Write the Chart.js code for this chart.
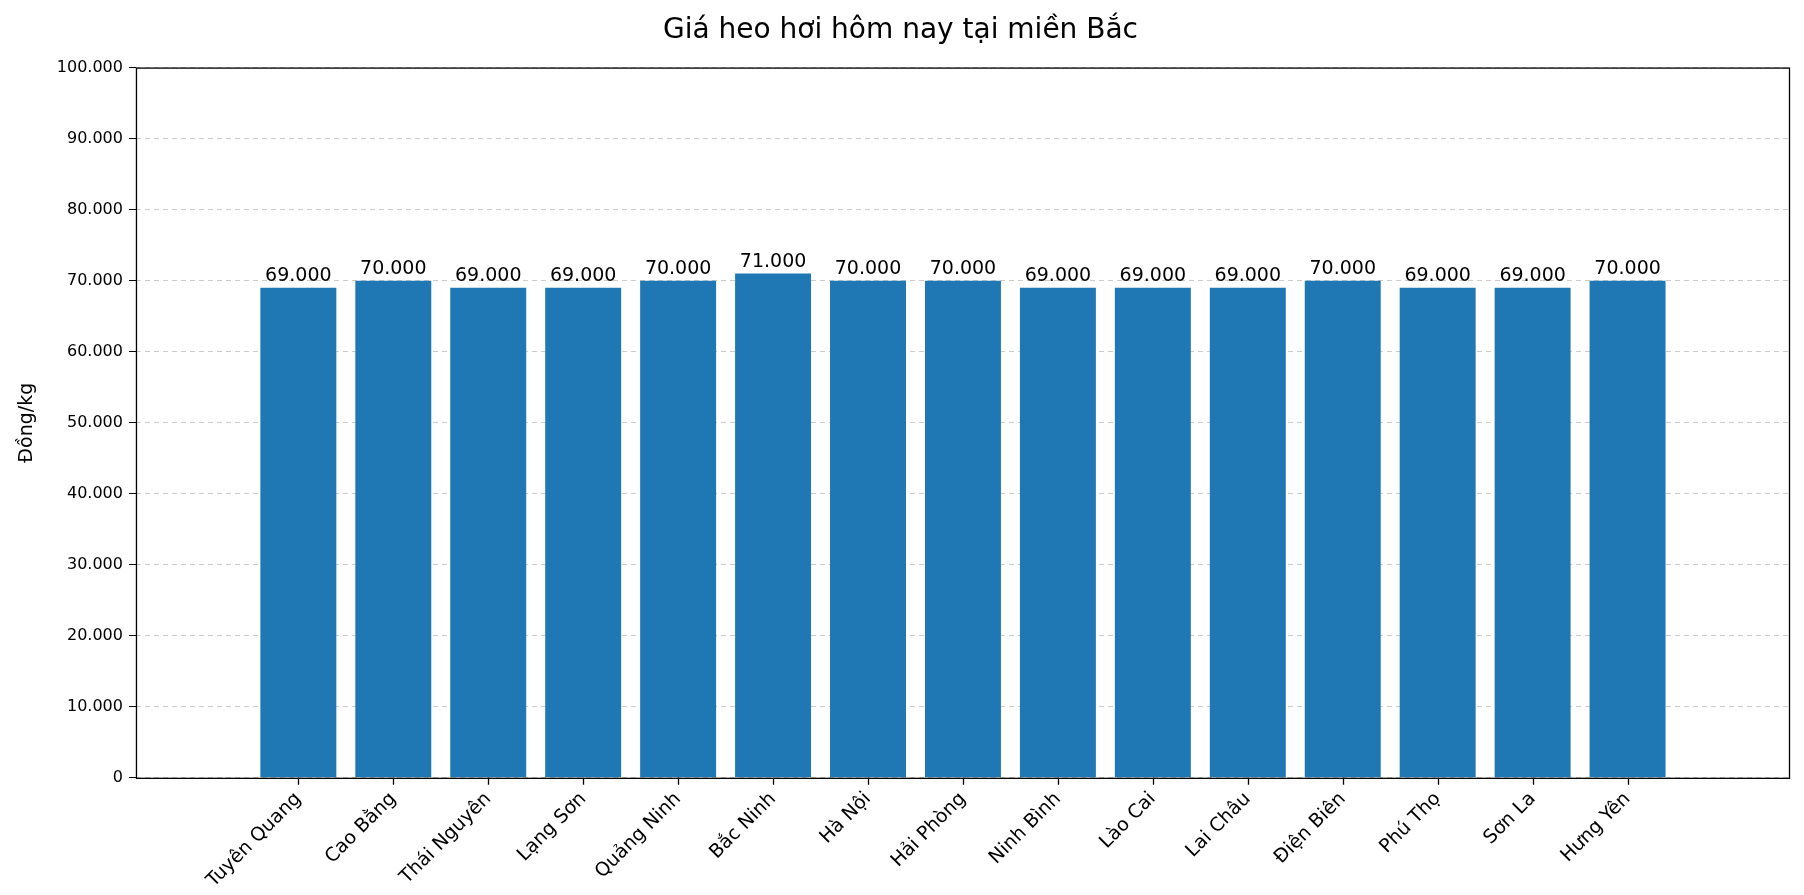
<!DOCTYPE html>
<html><head><meta charset="utf-8">
<script src="https://cdn.jsdelivr.net/npm/chart.js@4/dist/chart.umd.min.js"></script>
<style>html,body{margin:0;background:#fff}</style></head>
<body><canvas id="c" width="1804" height="895"></canvas>
<script>
const categories = ["Tuyên Quang","Cao Bằng","Thái Nguyên","Lạng Sơn","Quảng Ninh","Bắc Ninh","Hà Nội","Hải Phòng","Ninh Bình","Lào Cai","Lai Châu","Điện Biên","Phú Thọ","Sơn La","Hưng Yên"];
const prices = [69000,70000,69000,69000,70000,71000,70000,70000,69000,69000,69000,70000,69000,69000,70000];
const fmt = v => Math.round(v).toString().replace(/\B(?=(\d{3})+(?!\d))/g, ".");
const FONT = "'DejaVu Sans', sans-serif";
const labelPlugin = {
  id:'lbl',
  afterDatasetsDraw(chart){
    const ctx=chart.ctx, meta=chart.getDatasetMeta(0);
    ctx.save(); ctx.font="19px "+FONT; ctx.fillStyle="#000"; ctx.textAlign="center"; ctx.textBaseline="bottom";
    meta.data.forEach((b,i)=>ctx.fillText(fmt(prices[i]), b.x, b.y-2));
    ctx.restore();
  }
};
new Chart(document.getElementById('c'),{
  type:'bar',
  data:{datasets:[{data:prices.map((v,i)=>({x:i,y:v})),backgroundColor:'#1f77b4',categoryPercentage:1,barPercentage:0.8}]},
  options:{
    responsive:false, devicePixelRatio:1, animation:false,
    layout:{padding:{left:12,right:15,top:0,bottom:0}},
    plugins:{legend:{display:false},tooltip:{enabled:false},
      title:{display:true,text:'Giá heo hơi hôm nay tại miền Bắc',font:{family:FONT,size:28,weight:'normal'},color:'#000',padding:{top:14,bottom:20}}},
    scales:{
      x:{type:'linear',min:-1.13,max:15.12,
        afterBuildTicks(s){s.ticks=categories.map((c,i)=>({value:i}));},
        ticks:{autoSkip:false,maxRotation:45,minRotation:45,color:'#000',font:{family:FONT,size:19},callback:(v)=>categories[v]},
        grid:{display:false,drawTicks:true,tickLength:7},border:{display:false}},
      y:{min:0,max:100000,
        ticks:{stepSize:10000,color:'#000',font:{family:FONT,size:16},callback:v=>fmt(v),padding:6},
        grid:{color:'#cccccc',tickLength:7,tickColor:'#000',drawTicks:true},
        border:{display:false,dash:[5,4]},
        title:{display:true,text:'Đồng/kg',color:'#000',font:{family:FONT,size:19},padding:{bottom:12}}}
    }
  },
  plugins:[labelPlugin,{id:'frame',afterDraw(ch){const a=ch.chartArea,c=ch.ctx;c.save();c.strokeStyle='#000';c.lineWidth=1.3;c.strokeRect(a.left+0.5,a.top+0.5,a.right-a.left,a.bottom-a.top);
    c.beginPath();ch.scales.x.ticks.forEach(t=>{const x=Math.round(ch.scales.x.getPixelForValue(t.value))+0.5;c.moveTo(x,a.bottom);c.lineTo(x,a.bottom+7);});c.stroke();c.restore();}}]
});
</script></body></html>
